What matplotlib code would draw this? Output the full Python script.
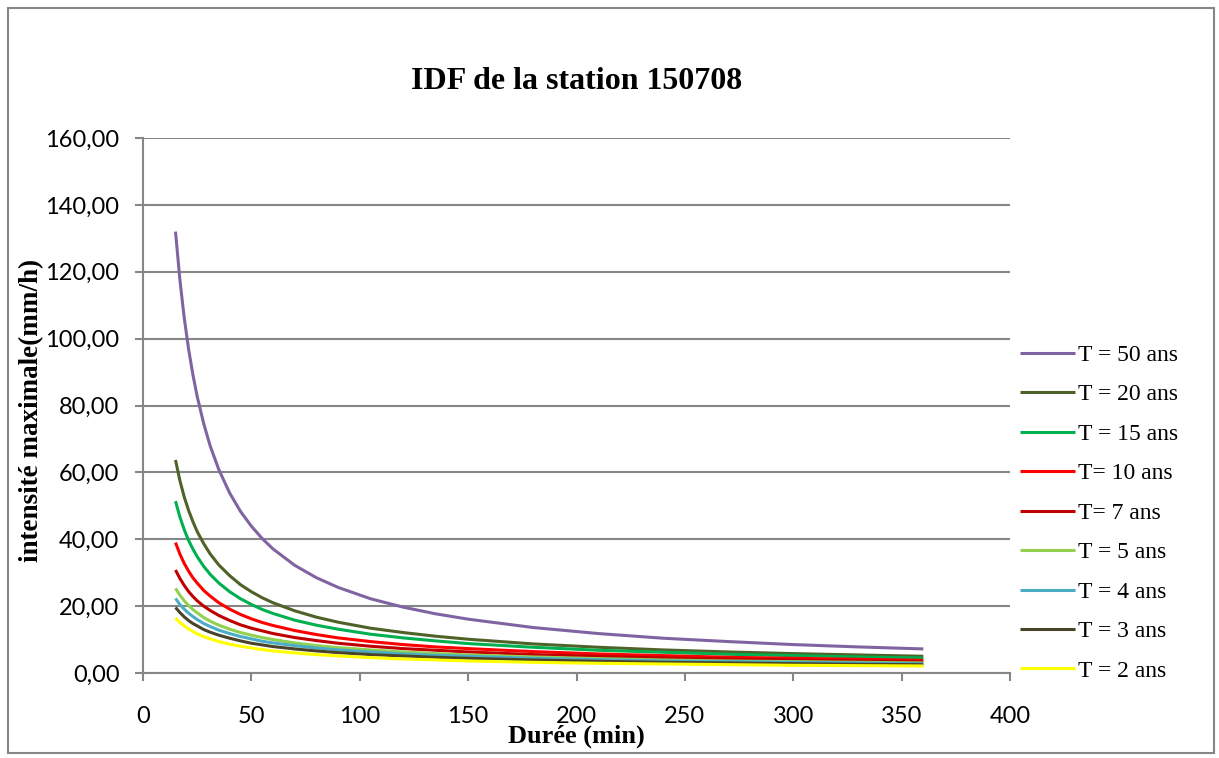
import matplotlib
matplotlib.use('Agg')
import matplotlib.pyplot as plt
from matplotlib.patches import Rectangle
from matplotlib.ticker import FuncFormatter

# durées (min)
durees = [15, 17, 19, 21, 23, 25, 28, 31, 35, 40, 45, 50, 55, 60, 70, 80, 90,
          105, 120, 135, 150, 180, 210, 240, 270, 300, 330, 360]

# intensités maximales (mm/h)
i_50 = [132.0, 117.7, 106.3, 97.0, 89.3, 82.7, 74.6, 67.9, 60.8, 53.8, 48.3, 43.9, 40.2, 37.1,
        32.2, 28.5, 25.6, 22.2, 19.7, 17.7, 16.1, 13.6, 11.8, 10.4, 9.4, 8.5, 7.8, 7.2]
i_20 = [63.7, 57.6, 52.7, 48.7, 45.3, 42.3, 38.7, 35.6, 32.3, 29.1, 26.4, 24.3, 22.5, 21.0,
        18.6, 16.7, 15.2, 13.4, 12.1, 11.0, 10.1, 8.7, 7.7, 6.9, 6.3, 5.8, 5.4, 5.0]
i_15 = [51.4, 46.7, 42.9, 39.7, 37.1, 34.8, 31.9, 29.5, 26.9, 24.3, 22.2, 20.5, 19.0, 17.8,
        15.8, 14.3, 13.1, 11.6, 10.5, 9.6, 8.8, 7.7, 6.8, 6.2, 5.6, 5.2, 4.8, 4.5]
i_10 = [39.0, 35.6, 32.8, 30.5, 28.5, 26.9, 24.7, 23.0, 21.0, 19.1, 17.5, 16.2, 15.1, 14.2,
        12.7, 11.5, 10.5, 9.4, 8.5, 7.8, 7.3, 6.4, 5.7, 5.2, 4.7, 4.4, 4.1, 3.8]
i_7 = [30.8, 28.3, 26.2, 24.4, 22.9, 21.6, 20.0, 18.7, 17.2, 15.7, 14.4, 13.4, 12.6, 11.8,
       10.6, 9.7, 8.9, 8.0, 7.3, 6.8, 6.3, 5.5, 5.0, 4.5, 4.2, 3.9, 3.6, 3.4]
i_5 = [25.3, 23.3, 21.6, 20.2, 19.0, 18.0, 16.6, 15.5, 14.3, 13.1, 12.1, 11.3, 10.6, 10.0,
       9.0, 8.2, 7.6, 6.9, 6.3, 5.8, 5.4, 4.8, 4.3, 3.9, 3.6, 3.4, 3.2, 3.0]
i_4 = [22.3, 20.5, 19.1, 17.9, 16.9, 16.0, 14.8, 13.9, 12.8, 11.8, 10.9, 10.2, 9.5, 9.0,
       8.2, 7.5, 6.9, 6.3, 5.7, 5.3, 5.0, 4.4, 4.0, 3.6, 3.4, 3.2, 3.0, 2.8]
i_3 = [19.6, 18.1, 16.8, 15.7, 14.8, 14.1, 13.0, 12.2, 11.3, 10.4, 9.6, 8.9, 8.4, 7.9,
       7.2, 6.6, 6.1, 5.5, 5.1, 4.7, 4.4, 3.9, 3.5, 3.2, 3.0, 2.8, 2.6, 2.5]
i_2 = [16.4, 15.1, 14.1, 13.2, 12.4, 11.7, 10.9, 10.2, 9.4, 8.6, 8.0, 7.5, 7.0, 6.6,
       6.0, 5.5, 5.1, 4.6, 4.2, 3.9, 3.6, 3.2, 2.9, 2.7, 2.5, 2.3, 2.2, 2.1]

series = [
    ('T = 50 ans', i_50, '#8064A2'),
    ('T = 20 ans', i_20, '#4F6228'),
    ('T = 15 ans', i_15, '#00B050'),
    ('T= 10 ans', i_10, '#FF0000'),
    ('T= 7 ans', i_7, '#C00000'),
    ('T = 5 ans', i_5, '#92D050'),
    ('T = 4 ans', i_4, '#4BACC6'),
    ('T = 3 ans', i_3, '#494429'),
    ('T = 2 ans', i_2, '#FFFF00'),
]

grey = '#868686'
serif = ['Liberation Serif', 'DejaVu Serif']

fig = plt.figure(figsize=(12.19, 7.58), dpi=100)
fig.patches.append(Rectangle((8 / 1219, 5 / 758), 1206 / 1219, 745 / 758,
                             transform=fig.transFigure, fill=False,
                             edgecolor=grey, lw=1.5))

ax = fig.add_axes([143 / 1219, 85 / 758, 867 / 1219, 535 / 758])

for label, vals, col in series:
    ax.plot(durees, vals, color=col, lw=2.2, label=label,
            solid_capstyle='butt', solid_joinstyle='round')

ax.set_xlim(0, 400)
ax.set_ylim(0, 160)
ax.set_xticks(range(0, 401, 50))
ax.set_yticks(range(0, 161, 20))
ax.yaxis.set_major_formatter(FuncFormatter(lambda v, p: f'{v:.2f}'.replace('.', ',')))
ax.grid(axis='y', color=grey, lw=1.5)
ax.set_axisbelow(True)
for s in ['top', 'right']:
    ax.spines[s].set_visible(False)
for s in ['left', 'bottom']:
    ax.spines[s].set_color(grey)
    ax.spines[s].set_linewidth(1.5)
ax.tick_params(axis='both', direction='out', length=6, width=1.5, color=grey,
               labelsize=17)
ax.tick_params(axis='y', pad=11)
ax.tick_params(axis='x', pad=18)
for t in ax.get_xticklabels() + ax.get_yticklabels():
    t.set_fontfamily('Lato')

ax.set_title('IDF de la station 150708', fontsize=23, fontweight='bold',
             family=serif, pad=35)
ax.set_xlabel('Durée (min)', fontsize=19, fontweight='bold', family=serif)
ax.xaxis.set_label_coords(0.5, -0.097)
ax.set_ylabel('intensité maximale(mm/h)', fontsize=19.5, fontweight='bold', family=serif)
ax.yaxis.set_label_coords(-0.114, 0.49)

ax.legend(loc='upper left', bbox_to_anchor=(0.993, 0.645), frameon=False,
          prop={'family': serif, 'size': 17}, handlelength=2.3,
          handletextpad=0.15, labelspacing=0.76, borderaxespad=0.3)

fig.savefig('out.png', dpi=100)
